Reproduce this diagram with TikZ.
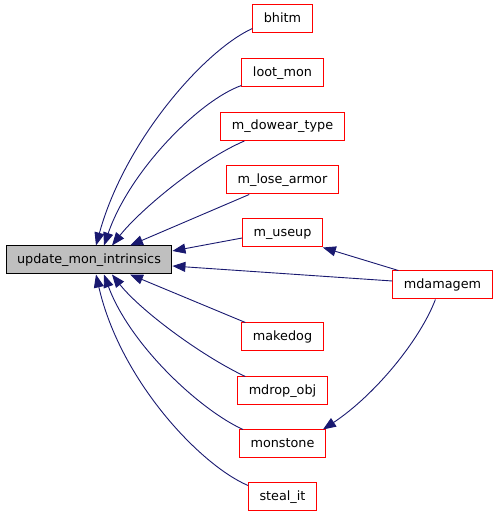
\documentclass[tikz,border=0pt]{standalone}
\usepackage{fontspec}
\setmainfont{DejaVu Sans}
\usetikzlibrary{arrows.meta}
\definecolor{edgeBlue}{RGB}{25,25,112}
\definecolor{boxRed}  {RGB}{255,0,0}
\definecolor{mainGray}{RGB}{191,191,191}

\tikzset{
  fnbox/.style={draw=boxRed,fill=white,line width=1pt,inner xsep=11pt,
    minimum height=28pt,text height=9.6pt,text depth=3pt,
    font=\fontsize{12.8}{15}\selectfont},
  mainbox/.style={fnbox,draw=black,fill=mainGray},
  call/.style={edgeBlue,line width=0.9pt,-{Triangle[length=13pt,width=10pt]}}
}

\begin{document}
\begin{tikzpicture}[x=1pt,y=1pt]
  \useasboundingbox (0,0) rectangle (499,517);
  % function and callers
  \node[mainbox] (umi)     at (89,257)    {update\_mon\_intrinsics};
  \node[fnbox]   (bhitm)   at (282.5,498) {bhitm};
  \node[fnbox]   (loot)    at (282.5,444) {loot\_mon};
  \node[fnbox]   (dowear)  at (282.5,390.5) {m\_dowear\_type};
  \node[fnbox]   (lose)    at (282.5,337) {m\_lose\_armor};
  \node[fnbox]   (useup)   at (282.5,284) {m\_useup};
  \node[fnbox]   (mdam)    at (442.5,232) {mdamagem};
  \node[fnbox]   (makedog) at (282.5,180) {makedog};
  \node[fnbox]   (mdrop)   at (282.5,126) {mdrop\_obj};
  \node[fnbox]   (mstone)  at (282.5,73)  {monstone};
  \node[fnbox]   (steal)   at (282.5,20)  {steal\_it};
  % calls into update_mon_intrinsics
  \draw[call] ([yshift=5]bhitm.south west) .. controls (205,467) and (125,377) .. ([xshift=7]umi.north);
  \draw[call] ([yshift=2]loot.south west) .. controls (200,417) and (130,347) .. ([xshift=15]umi.north);
  \draw[call] ([xshift=24]dowear.south west) .. controls (200,357) and (140,307) .. ([xshift=23]umi.north);
  \draw[call] ([xshift=23]lose.south west) -- ([xshift=41]umi.north);
  \draw[call] ([yshift=-5]useup.west) -- ([yshift=9]umi.east);
  \draw[call] ([yshift=4]mdam.west) -- ([yshift=-6]umi.east);
  \draw[call] ([xshift=4]makedog.north west) -- ([xshift=41]umi.south);
  \draw[call] ([xshift=8]mdrop.north west) .. controls (200,162) and (140,207) .. ([xshift=23]umi.south);
  \draw[call] ([xshift=4]mstone.north west) .. controls (200,107) and (130,172) .. ([xshift=15]umi.south);
  \draw[call] ([yshift=-3]steal.north west) .. controls (200,52) and (120,137) .. ([xshift=7]umi.south);
  % mdamagem calls
  \draw[call] ([xshift=6]mdam.north west) -- (useup.south east);
  \draw[call] ([xshift=43]mdam.south west) .. controls (420,177) and (375,122) .. ([xshift=-3]mstone.north east);
\end{tikzpicture}
\end{document}
